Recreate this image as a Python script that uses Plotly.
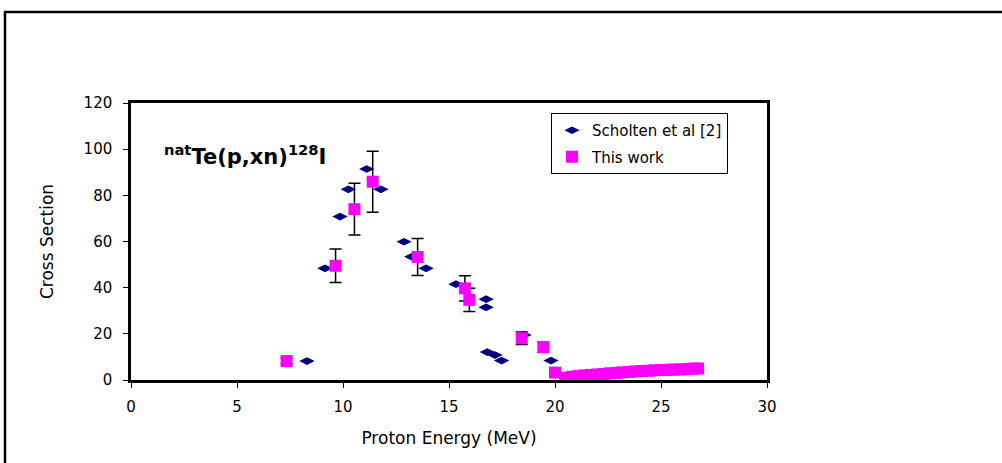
import plotly.graph_objects as go

# Scholten et al [2]
scholten_e = [8.3, 9.15, 9.86, 10.25, 11.12, 11.79, 12.88, 13.24, 13.92, 15.33,
              16.75, 16.75, 16.81, 17.17, 17.48, 18.54, 19.81]
scholten_xs = [8.2, 48.4, 70.8, 82.6, 91.4, 82.6, 59.9, 53.4, 48.4, 41.5,
               35.0, 31.5, 12.1, 10.8, 8.4, 19.5, 8.4]

# This work
work_e = [7.34, 9.65, 10.54, 11.4, 13.52, 15.75, 15.96, 18.43, 19.45, 20.0,
          20.5, 20.8, 21.1, 21.4, 21.7, 22.0, 22.3, 22.6, 22.9, 23.2, 23.5,
          23.8, 24.1, 24.4, 24.7, 25.0, 25.3, 25.6, 25.9, 26.2, 26.5, 26.75]
work_xs = [8.2, 49.5, 74.0, 85.9, 53.3, 39.7, 34.7, 18.1, 14.2, 3.2,
           1.0, 1.4, 1.7, 2.0, 2.2, 2.4, 2.6, 2.9, 3.1, 3.3, 3.5,
           3.7, 3.9, 4.0, 4.2, 4.3, 4.4, 4.5, 4.6, 4.7, 4.9, 5.0]
work_err = [1.2, 7.3, 11.2, 13.2, 8.0, 5.5, 5.0, 2.7, 2.2, 0.5,
            0.3, 0.3, 0.3, 0.3, 0.3, 0.3, 0.3, 0.3, 0.3, 0.3, 0.3,
            0.3, 0.3, 0.3, 0.3, 0.3, 0.3, 0.3, 0.3, 0.3, 0.3, 1.0]

x_ticks = [0, 5, 10, 15, 20, 25, 30]
y_ticks = [0, 20, 40, 60, 80, 100, 120]

FONT = "DejaVu Sans"
W, H = 1002, 463
L, R, T, B = 131, 767, 103, 380

fig = go.Figure()
fig.add_trace(go.Scatter(
    x=scholten_e, y=scholten_xs, mode="markers", name="Scholten et al [2]",
    legendgroup="a",
    marker=dict(symbol="diamond-wide", size=11, color="#000080")))
fig.add_trace(go.Scatter(
    x=work_e, y=work_xs, mode="markers", name="This work",
    legendgroup="b",
    marker=dict(symbol="square", size=12, color="#FF00FF"),
    error_y=dict(type="data", array=work_err, visible=True, color="black",
                 thickness=1.5, width=6)))

px = lambda v: (v - L) / (R - L)
py = lambda v: (B - v) / (B - T)

# outer document frame: left edge and top edge only
fig.add_shape(type="path", xref="paper", yref="paper",
              path=f"M {px(5)},{py(470)} L {px(5)},{py(12)} L {px(1010)},{py(12)}",
              line=dict(color="black", width=2.5))

fig.add_annotation(
    text="<b><sup>nat</sup>Te(p,xn)<sup>128</sup>I</b>",
    xref="paper", yref="paper", x=px(162), y=py(171), xanchor="left",
    yanchor="bottom", showarrow=False,
    font=dict(family=FONT, size=21, color="black"))

axis_common = dict(showline=True, linecolor="black", linewidth=2.5, mirror=True,
                   ticks="outside", ticklen=5, tickcolor="black", tickwidth=1,
                   showgrid=False, zeroline=False,
                   tickfont=dict(family=FONT, size=15, color="black"))

fig.update_xaxes(range=[0, 30], tickvals=x_ticks, ticktext=[str(v) for v in x_ticks],
                 title=dict(text="Proton Energy (MeV)", standoff=18,
                            font=dict(family=FONT, size=17, color="black")),
                 ticklabelstandoff=6, **axis_common)
fig.update_yaxes(range=[0, 120], tickvals=y_ticks, ticktext=[str(v) for v in y_ticks],
                 title=dict(text="Cross Section", standoff=26,
                            font=dict(family=FONT, size=17, color="black")),
                 ticklabelstandoff=8, **axis_common)

fig.update_layout(
    width=W, height=H,
    margin=dict(l=L, r=W - R, t=T, b=H - B),
    paper_bgcolor="white", plot_bgcolor="white",
    legend=dict(x=px(551), y=py(113), xanchor="left", yanchor="top",
                bgcolor="white", bordercolor="black", borderwidth=1,
                font=dict(family=FONT, size=15, color="black"),
                tracegroupgap=4),
    showlegend=True,
)

fig.write_html(
    "out.html",
    post_script="document.documentElement.style.overflow='hidden';"
                "document.body.style.overflow='hidden';"
                "document.body.style.margin='0';",
)
